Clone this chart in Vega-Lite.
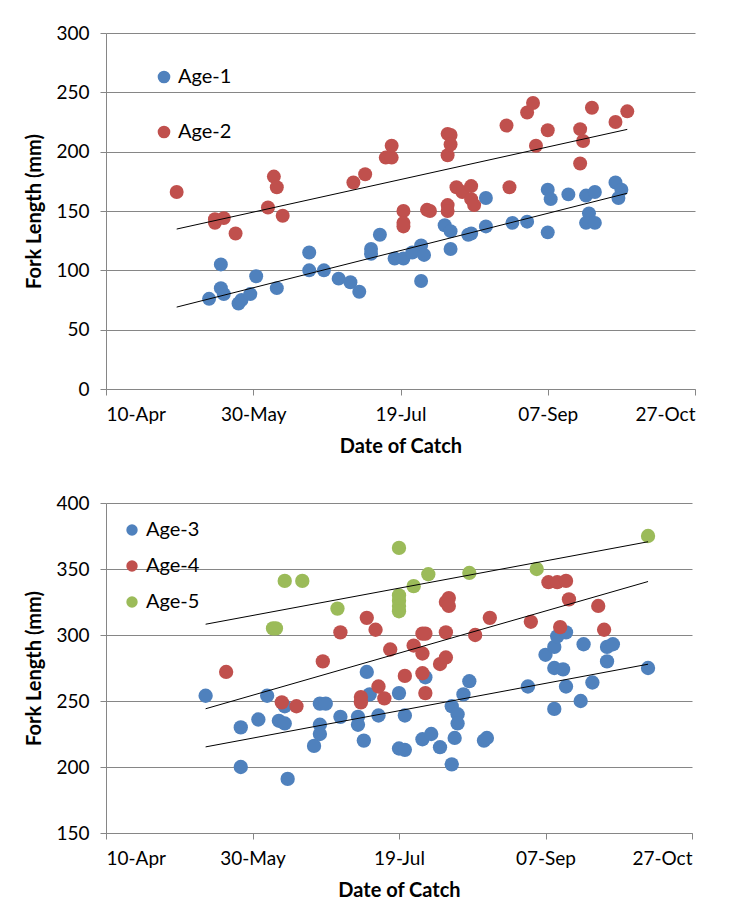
{
  "$schema": "https://vega.github.io/schema/vega-lite/v6.json",
  "background": "white",
  "padding": {"left": 24, "top": 24, "right": 10, "bottom": 2},
  "spacing": 38,
  "config": {
    "font": "Lato",
    "view": {"stroke": null},
    "axis": {
      "labelFont": "Lato", "labelFontSize": 19, "labelColor": "#000000",
      "titleFont": "Lato", "titleFontSize": 20, "titleFontWeight": "bold", "titleColor": "#000000",
      "domainColor": "#868686", "tickColor": "#868686", "gridColor": "#868686",
      "tickSize": 6, "domainWidth": 1, "tickWidth": 1, "gridWidth": 1
    },
    "legend": {"labelFont": "Lato", "labelFontSize": 20, "labelColor": "#000000", "title": null, "padding": 0, "symbolType": "circle", "symbolStrokeWidth": 0, "labelOffset": 4}
  },
  "resolve": {"scale": {"color": "independent", "x": "independent", "y": "independent"}, "legend": {"color": "independent"}},
  "vconcat": [
    {
      "width": 589,
      "height": 356,
      "data": {
        "format": {"parse": {"date": "date"}},
        "values": [
          {"date": "2013-05-15", "length": 76, "age": "Age-1"},
          {"date": "2013-05-19", "length": 105, "age": "Age-1"},
          {"date": "2013-05-19", "length": 85, "age": "Age-1"},
          {"date": "2013-05-20", "length": 80, "age": "Age-1"},
          {"date": "2013-05-25", "length": 72, "age": "Age-1"},
          {"date": "2013-05-26", "length": 75, "age": "Age-1"},
          {"date": "2013-05-29", "length": 80, "age": "Age-1"},
          {"date": "2013-05-31", "length": 95, "age": "Age-1"},
          {"date": "2013-06-07", "length": 85, "age": "Age-1"},
          {"date": "2013-06-18", "length": 115, "age": "Age-1"},
          {"date": "2013-06-18", "length": 100, "age": "Age-1"},
          {"date": "2013-06-23", "length": 100, "age": "Age-1"},
          {"date": "2013-06-28", "length": 93, "age": "Age-1"},
          {"date": "2013-07-02", "length": 90, "age": "Age-1"},
          {"date": "2013-07-05", "length": 82, "age": "Age-1"},
          {"date": "2013-07-09", "length": 118, "age": "Age-1"},
          {"date": "2013-07-09", "length": 114, "age": "Age-1"},
          {"date": "2013-07-12", "length": 130, "age": "Age-1"},
          {"date": "2013-07-17", "length": 110, "age": "Age-1"},
          {"date": "2013-07-20", "length": 110, "age": "Age-1"},
          {"date": "2013-07-23", "length": 115, "age": "Age-1"},
          {"date": "2013-07-26", "length": 121, "age": "Age-1"},
          {"date": "2013-07-27", "length": 113, "age": "Age-1"},
          {"date": "2013-07-26", "length": 91, "age": "Age-1"},
          {"date": "2013-08-03", "length": 138, "age": "Age-1"},
          {"date": "2013-08-05", "length": 133, "age": "Age-1"},
          {"date": "2013-08-05", "length": 118, "age": "Age-1"},
          {"date": "2013-08-11", "length": 130, "age": "Age-1"},
          {"date": "2013-08-12", "length": 131, "age": "Age-1"},
          {"date": "2013-08-17", "length": 137, "age": "Age-1"},
          {"date": "2013-08-17", "length": 161, "age": "Age-1"},
          {"date": "2013-08-26", "length": 140, "age": "Age-1"},
          {"date": "2013-08-31", "length": 141, "age": "Age-1"},
          {"date": "2013-09-07", "length": 168, "age": "Age-1"},
          {"date": "2013-09-08", "length": 160, "age": "Age-1"},
          {"date": "2013-09-07", "length": 132, "age": "Age-1"},
          {"date": "2013-09-14", "length": 164, "age": "Age-1"},
          {"date": "2013-09-20", "length": 163, "age": "Age-1"},
          {"date": "2013-09-23", "length": 166, "age": "Age-1"},
          {"date": "2013-09-21", "length": 148, "age": "Age-1"},
          {"date": "2013-09-20", "length": 140, "age": "Age-1"},
          {"date": "2013-09-23", "length": 140, "age": "Age-1"},
          {"date": "2013-09-30", "length": 174, "age": "Age-1"},
          {"date": "2013-10-02", "length": 168, "age": "Age-1"},
          {"date": "2013-10-01", "length": 161, "age": "Age-1"},
          {"date": "2013-05-04", "length": 166, "age": "Age-2"},
          {"date": "2013-05-17", "length": 143, "age": "Age-2"},
          {"date": "2013-05-17", "length": 140, "age": "Age-2"},
          {"date": "2013-05-20", "length": 144, "age": "Age-2"},
          {"date": "2013-05-24", "length": 131, "age": "Age-2"},
          {"date": "2013-06-04", "length": 153, "age": "Age-2"},
          {"date": "2013-06-06", "length": 179, "age": "Age-2"},
          {"date": "2013-06-07", "length": 170, "age": "Age-2"},
          {"date": "2013-06-09", "length": 146, "age": "Age-2"},
          {"date": "2013-07-03", "length": 174, "age": "Age-2"},
          {"date": "2013-07-07", "length": 181, "age": "Age-2"},
          {"date": "2013-07-14", "length": 195, "age": "Age-2"},
          {"date": "2013-07-16", "length": 195, "age": "Age-2"},
          {"date": "2013-07-16", "length": 205, "age": "Age-2"},
          {"date": "2013-07-20", "length": 150, "age": "Age-2"},
          {"date": "2013-07-20", "length": 140, "age": "Age-2"},
          {"date": "2013-07-20", "length": 137, "age": "Age-2"},
          {"date": "2013-07-28", "length": 151, "age": "Age-2"},
          {"date": "2013-07-29", "length": 150, "age": "Age-2"},
          {"date": "2013-08-04", "length": 215, "age": "Age-2"},
          {"date": "2013-08-04", "length": 197, "age": "Age-2"},
          {"date": "2013-08-04", "length": 155, "age": "Age-2"},
          {"date": "2013-08-04", "length": 150, "age": "Age-2"},
          {"date": "2013-08-05", "length": 214, "age": "Age-2"},
          {"date": "2013-08-05", "length": 206, "age": "Age-2"},
          {"date": "2013-08-07", "length": 170, "age": "Age-2"},
          {"date": "2013-08-09", "length": 166, "age": "Age-2"},
          {"date": "2013-08-12", "length": 171, "age": "Age-2"},
          {"date": "2013-08-12", "length": 160, "age": "Age-2"},
          {"date": "2013-08-13", "length": 155, "age": "Age-2"},
          {"date": "2013-08-24", "length": 222, "age": "Age-2"},
          {"date": "2013-08-25", "length": 170, "age": "Age-2"},
          {"date": "2013-08-31", "length": 233, "age": "Age-2"},
          {"date": "2013-09-02", "length": 241, "age": "Age-2"},
          {"date": "2013-09-03", "length": 205, "age": "Age-2"},
          {"date": "2013-09-07", "length": 218, "age": "Age-2"},
          {"date": "2013-09-18", "length": 219, "age": "Age-2"},
          {"date": "2013-09-18", "length": 190, "age": "Age-2"},
          {"date": "2013-09-19", "length": 209, "age": "Age-2"},
          {"date": "2013-09-22", "length": 237, "age": "Age-2"},
          {"date": "2013-09-30", "length": 225, "age": "Age-2"},
          {"date": "2013-10-04", "length": 234, "age": "Age-2"}
        ]
      },
      "encoding": {
        "x": {
          "field": "date", "type": "temporal",
          "scale": {"type": "utc", "domain": [{"year": 2013, "month": 4, "date": 10, "utc": true}, {"year": 2013, "month": 10, "date": 27, "utc": true}]},
          "axis": {
            "title": "Date of Catch", "format": "%d-%b", "grid": false,
            "values": [
              {"year": 2013, "month": 4, "date": 10, "utc": true},
              {"year": 2013, "month": 5, "date": 30, "utc": true},
              {"year": 2013, "month": 7, "date": 19, "utc": true},
              {"year": 2013, "month": 9, "date": 7, "utc": true},
              {"year": 2013, "month": 10, "date": 27, "utc": true}
            ],
            "labelPadding": 10, "titlePadding": 12
          }
        },
        "y": {
          "field": "length", "type": "quantitative",
          "scale": {"domain": [0, 300], "nice": false},
          "axis": {"title": "Fork Length (mm)", "values": [0, 50, 100, 150, 200, 250, 300], "grid": true, "labelPadding": 11, "titlePadding": 11}
        }
      },
      "layer": [
        {
          "mark": {"type": "circle", "size": 195, "opacity": 1},
          "encoding": {
            "color": {
              "field": "age", "type": "nominal",
              "scale": {"domain": ["Age-1", "Age-2"], "range": ["#4F81BD", "#C0504D"]},
              "legend": {"orient": "none", "legendX": 48, "legendY": 34, "rowPadding": 35, "symbolSize": 160}
            }
          }
        },
        {
          "transform": [{"regression": "length", "on": "date", "groupby": ["age"], "extent": [1367625600000, 1380844800000]}],
          "mark": {"type": "line", "color": "#000000", "strokeWidth": 1},
          "encoding": {"detail": {"field": "age", "type": "nominal"}}
        }
      ]
    },
    {
      "width": 586,
      "height": 330,
      "data": {
        "format": {"parse": {"date": "date"}},
        "values": [
          {"date": "2013-05-14", "length": 254, "age": "Age-3"},
          {"date": "2013-05-26", "length": 230, "age": "Age-3"},
          {"date": "2013-05-26", "length": 200, "age": "Age-3"},
          {"date": "2013-06-01", "length": 236, "age": "Age-3"},
          {"date": "2013-06-04", "length": 254, "age": "Age-3"},
          {"date": "2013-06-08", "length": 235, "age": "Age-3"},
          {"date": "2013-06-10", "length": 233, "age": "Age-3"},
          {"date": "2013-06-10", "length": 246, "age": "Age-3"},
          {"date": "2013-06-11", "length": 191, "age": "Age-3"},
          {"date": "2013-06-20", "length": 216, "age": "Age-3"},
          {"date": "2013-06-22", "length": 248, "age": "Age-3"},
          {"date": "2013-06-22", "length": 232, "age": "Age-3"},
          {"date": "2013-06-22", "length": 225, "age": "Age-3"},
          {"date": "2013-06-24", "length": 248, "age": "Age-3"},
          {"date": "2013-06-29", "length": 238, "age": "Age-3"},
          {"date": "2013-07-05", "length": 238, "age": "Age-3"},
          {"date": "2013-07-05", "length": 232, "age": "Age-3"},
          {"date": "2013-07-07", "length": 220, "age": "Age-3"},
          {"date": "2013-07-08", "length": 272, "age": "Age-3"},
          {"date": "2013-07-09", "length": 255, "age": "Age-3"},
          {"date": "2013-07-12", "length": 239, "age": "Age-3"},
          {"date": "2013-07-19", "length": 256, "age": "Age-3"},
          {"date": "2013-07-19", "length": 214, "age": "Age-3"},
          {"date": "2013-07-21", "length": 239, "age": "Age-3"},
          {"date": "2013-07-21", "length": 213, "age": "Age-3"},
          {"date": "2013-07-27", "length": 221, "age": "Age-3"},
          {"date": "2013-07-28", "length": 268, "age": "Age-3"},
          {"date": "2013-07-30", "length": 225, "age": "Age-3"},
          {"date": "2013-08-02", "length": 215, "age": "Age-3"},
          {"date": "2013-08-06", "length": 246, "age": "Age-3"},
          {"date": "2013-08-06", "length": 202, "age": "Age-3"},
          {"date": "2013-08-07", "length": 222, "age": "Age-3"},
          {"date": "2013-08-08", "length": 240, "age": "Age-3"},
          {"date": "2013-08-08", "length": 233, "age": "Age-3"},
          {"date": "2013-08-10", "length": 255, "age": "Age-3"},
          {"date": "2013-08-12", "length": 265, "age": "Age-3"},
          {"date": "2013-08-17", "length": 220, "age": "Age-3"},
          {"date": "2013-08-18", "length": 222, "age": "Age-3"},
          {"date": "2013-09-01", "length": 261, "age": "Age-3"},
          {"date": "2013-09-07", "length": 285, "age": "Age-3"},
          {"date": "2013-09-10", "length": 291, "age": "Age-3"},
          {"date": "2013-09-10", "length": 275, "age": "Age-3"},
          {"date": "2013-09-10", "length": 244, "age": "Age-3"},
          {"date": "2013-09-11", "length": 299, "age": "Age-3"},
          {"date": "2013-09-13", "length": 274, "age": "Age-3"},
          {"date": "2013-09-14", "length": 261, "age": "Age-3"},
          {"date": "2013-09-14", "length": 302, "age": "Age-3"},
          {"date": "2013-09-19", "length": 250, "age": "Age-3"},
          {"date": "2013-09-20", "length": 293, "age": "Age-3"},
          {"date": "2013-09-23", "length": 264, "age": "Age-3"},
          {"date": "2013-09-28", "length": 291, "age": "Age-3"},
          {"date": "2013-09-28", "length": 280, "age": "Age-3"},
          {"date": "2013-09-30", "length": 293, "age": "Age-3"},
          {"date": "2013-10-12", "length": 275, "age": "Age-3"},
          {"date": "2013-05-21", "length": 272, "age": "Age-4"},
          {"date": "2013-06-09", "length": 249, "age": "Age-4"},
          {"date": "2013-06-14", "length": 246, "age": "Age-4"},
          {"date": "2013-06-23", "length": 280, "age": "Age-4"},
          {"date": "2013-06-29", "length": 302, "age": "Age-4"},
          {"date": "2013-07-06", "length": 253, "age": "Age-4"},
          {"date": "2013-07-06", "length": 249, "age": "Age-4"},
          {"date": "2013-07-08", "length": 313, "age": "Age-4"},
          {"date": "2013-07-11", "length": 304, "age": "Age-4"},
          {"date": "2013-07-12", "length": 261, "age": "Age-4"},
          {"date": "2013-07-14", "length": 252, "age": "Age-4"},
          {"date": "2013-07-16", "length": 289, "age": "Age-4"},
          {"date": "2013-07-21", "length": 269, "age": "Age-4"},
          {"date": "2013-07-24", "length": 292, "age": "Age-4"},
          {"date": "2013-07-27", "length": 301, "age": "Age-4"},
          {"date": "2013-07-27", "length": 286, "age": "Age-4"},
          {"date": "2013-07-27", "length": 271, "age": "Age-4"},
          {"date": "2013-07-28", "length": 301, "age": "Age-4"},
          {"date": "2013-07-28", "length": 256, "age": "Age-4"},
          {"date": "2013-08-02", "length": 278, "age": "Age-4"},
          {"date": "2013-08-04", "length": 283, "age": "Age-4"},
          {"date": "2013-08-04", "length": 325, "age": "Age-4"},
          {"date": "2013-08-04", "length": 302, "age": "Age-4"},
          {"date": "2013-08-05", "length": 328, "age": "Age-4"},
          {"date": "2013-08-05", "length": 322, "age": "Age-4"},
          {"date": "2013-08-14", "length": 300, "age": "Age-4"},
          {"date": "2013-08-19", "length": 313, "age": "Age-4"},
          {"date": "2013-09-02", "length": 310, "age": "Age-4"},
          {"date": "2013-09-08", "length": 340, "age": "Age-4"},
          {"date": "2013-09-11", "length": 340, "age": "Age-4"},
          {"date": "2013-09-12", "length": 306, "age": "Age-4"},
          {"date": "2013-09-14", "length": 341, "age": "Age-4"},
          {"date": "2013-09-15", "length": 327, "age": "Age-4"},
          {"date": "2013-09-25", "length": 322, "age": "Age-4"},
          {"date": "2013-09-27", "length": 304, "age": "Age-4"},
          {"date": "2013-06-06", "length": 305, "age": "Age-5"},
          {"date": "2013-06-07", "length": 305, "age": "Age-5"},
          {"date": "2013-06-10", "length": 341, "age": "Age-5"},
          {"date": "2013-06-16", "length": 341, "age": "Age-5"},
          {"date": "2013-06-28", "length": 320, "age": "Age-5"},
          {"date": "2013-07-19", "length": 366, "age": "Age-5"},
          {"date": "2013-07-19", "length": 330, "age": "Age-5"},
          {"date": "2013-07-19", "length": 326, "age": "Age-5"},
          {"date": "2013-07-19", "length": 322, "age": "Age-5"},
          {"date": "2013-07-19", "length": 318, "age": "Age-5"},
          {"date": "2013-07-24", "length": 337, "age": "Age-5"},
          {"date": "2013-07-29", "length": 346, "age": "Age-5"},
          {"date": "2013-08-12", "length": 347, "age": "Age-5"},
          {"date": "2013-09-04", "length": 350, "age": "Age-5"},
          {"date": "2013-10-12", "length": 375, "age": "Age-5"}
        ]
      },
      "encoding": {
        "x": {
          "field": "date", "type": "temporal",
          "scale": {"type": "utc", "domain": [{"year": 2013, "month": 4, "date": 10, "utc": true}, {"year": 2013, "month": 10, "date": 27, "utc": true}]},
          "axis": {
            "title": "Date of Catch", "format": "%d-%b", "grid": false,
            "values": [
              {"year": 2013, "month": 4, "date": 10, "utc": true},
              {"year": 2013, "month": 5, "date": 30, "utc": true},
              {"year": 2013, "month": 7, "date": 19, "utc": true},
              {"year": 2013, "month": 9, "date": 7, "utc": true},
              {"year": 2013, "month": 10, "date": 27, "utc": true}
            ],
            "labelPadding": 10, "titlePadding": 12
          }
        },
        "y": {
          "field": "length", "type": "quantitative",
          "scale": {"domain": [150, 400], "nice": false},
          "axis": {"title": "Fork Length (mm)", "values": [150, 200, 250, 300, 350, 400], "grid": true, "labelPadding": 11, "titlePadding": 11}
        }
      },
      "layer": [
        {
          "mark": {"type": "circle", "size": 205, "opacity": 1},
          "encoding": {
            "color": {
              "field": "age", "type": "nominal",
              "scale": {"domain": ["Age-3", "Age-4", "Age-5"], "range": ["#4F81BD", "#C0504D", "#9BBB59"]},
              "legend": {"orient": "none", "legendX": 16, "legendY": 17, "rowPadding": 16, "symbolSize": 130}
            }
          }
        },
        {
          "transform": [{"regression": "length", "on": "date", "groupby": ["age"], "extent": [1368489600000, 1381536000000]}],
          "mark": {"type": "line", "color": "#000000", "strokeWidth": 1},
          "encoding": {"detail": {"field": "age", "type": "nominal"}}
        }
      ]
    }
  ]
}
